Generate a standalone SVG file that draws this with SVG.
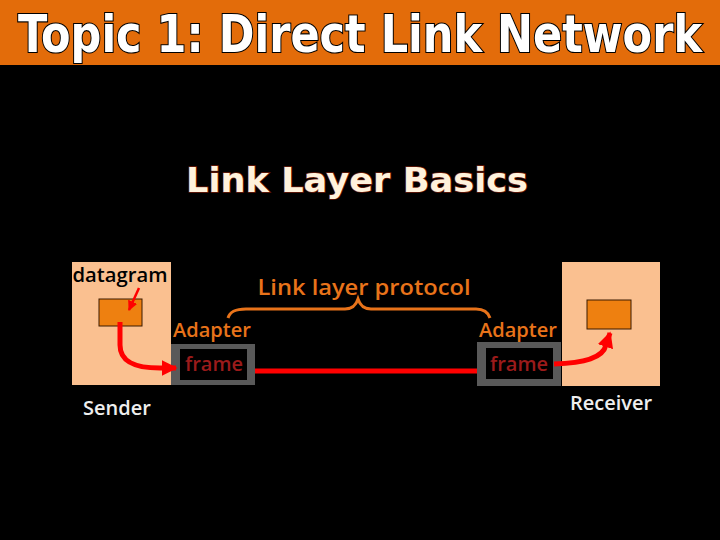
<svg xmlns="http://www.w3.org/2000/svg" width="720" height="540" viewBox="0 0 720 540">
<defs>
<style>
.body{font-family:"Open Sans","Liberation Sans",sans-serif;font-weight:600;}
.lbl{font-size:20px;}
.orange{fill:#E8731A;}
.frame{fill:#9B1B1B;font-size:20px;}
.host{fill:#FAC090;}
.pkt{fill:#EE8010;stroke:#3a1a00;stroke-width:1;}
.adOuter{fill:#595959;}
.adInner{fill:#000;}
.red{stroke:#FF0000;fill:none;}
</style>
<marker id="ahBig" viewBox="0 0 10 10" refX="9" refY="5" markerWidth="3.2" markerHeight="3.2" orient="auto" markerUnits="strokeWidth">
<path d="M0,0 L10,5 L0,10 z" fill="#FF0000"/>
</marker>
<marker id="ahSmall" viewBox="0 0 10 10" refX="9" refY="5" markerWidth="4" markerHeight="4" orient="auto" markerUnits="strokeWidth">
<path d="M0,0 L10,5 L0,10 z" fill="#FF0000"/>
</marker>
</defs>
<rect x="0" y="0" width="720" height="540" fill="#000"/>
<g id="title">
<rect x="0" y="0" width="720" height="65" fill="#E36C0A"/>
<text transform="translate(360,52) scale(1,1.2)" x="0" y="0" text-anchor="middle" font-family="'DejaVu Sans Condensed','DejaVu Sans',sans-serif" font-weight="bold" font-size="43" fill="#fff" stroke="#000" stroke-width="1.8" paint-order="stroke" textLength="684" lengthAdjust="spacingAndGlyphs">Topic 1: Direct Link Network</text>
</g>
<g id="subtitle">
<text x="357" y="192" text-anchor="middle" font-family="DejaVu Sans" font-weight="bold" font-size="33" fill="#FFF2DC" stroke="#6B1A0A" stroke-width="1.5" paint-order="stroke" textLength="342" lengthAdjust="spacingAndGlyphs">Link Layer Basics</text>
</g>
<g id="sender">
<rect class="host" x="72" y="262" width="99" height="123"/>
<text class="body lbl" x="120" y="282" text-anchor="middle" fill="#000" textLength="95" lengthAdjust="spacingAndGlyphs">datagram</text>
<rect class="pkt" x="99" y="299" width="43" height="27"/>
<text class="body lbl" x="117" y="415" text-anchor="middle" fill="#EEEEEE">Sender</text>
</g>
<g id="sender-adapter">
<text class="body lbl orange" x="212" y="337" text-anchor="middle">Adapter</text>
<rect class="adOuter" x="171" y="344" width="84" height="41"/>
<rect class="adInner" x="180" y="349" width="67" height="31"/>
<text class="body frame" x="214" y="371" text-anchor="middle">frame</text>
</g>
<g id="receiver">
<rect class="host" x="562" y="262" width="98" height="124"/>
<rect class="pkt" x="587" y="300" width="44" height="29"/>
<text class="body lbl" x="611" y="410" text-anchor="middle" fill="#EEEEEE">Receiver</text>
</g>
<g id="receiver-adapter">
<text class="body lbl orange" x="518" y="337" text-anchor="middle">Adapter</text>
<rect class="adOuter" x="477" y="342" width="84" height="44"/>
<rect class="adInner" x="486" y="348" width="67" height="31"/>
<text class="body frame" x="519" y="371" text-anchor="middle">frame</text>
</g>
<g id="protocol">
<text class="body orange" x="364" y="295" text-anchor="middle" font-size="22" textLength="213" lengthAdjust="spacingAndGlyphs">Link layer protocol</text>
</g>
<g id="connectors">
<path d="M228,318 C230,311 236,309 246,309 L345,309 C353,309 356,305 358,299 C360,305 363,309 371,309 L476,309 C484,309 488,312 490,318" stroke="#E8731A" stroke-width="3" fill="none"/>
<path class="red" d="M139,288 L129,310" stroke-width="2.5" marker-end="url(#ahSmall)"/>
<path class="red" d="M120,322 L120,345 C120,362 135,368 160,368 L176,368" stroke-width="5" marker-end="url(#ahBig)"/>
<path class="red" d="M255,371 L477,371" stroke-width="5"/>
<path class="red" d="M554,364 C585,363 603,358 606,345 L610,333" stroke-width="5" marker-end="url(#ahBig)"/>
</g>
</svg>
